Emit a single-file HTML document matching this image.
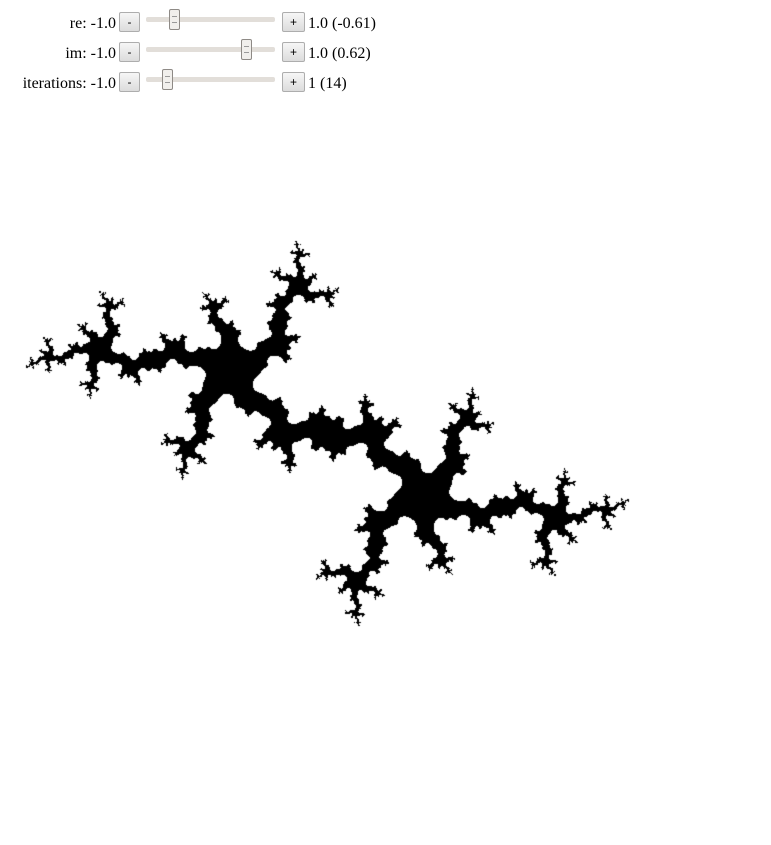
<!DOCTYPE html>
<html><head><meta charset="utf-8">
<style>
body{margin:0;width:771px;height:845px;background:#fff;position:relative;overflow:hidden;font-family:"Liberation Serif",serif;font-size:16px;color:#000}
.row{position:absolute;left:0;height:22px;width:400px}
.lbl{position:absolute;right:284px;top:3px;white-space:nowrap}
.btn{position:absolute;top:0;width:19px;height:18px;border:1px solid #adadad;border-radius:2px;background:linear-gradient(#f6f6f6,#dcdcdc);font-family:"Liberation Sans",sans-serif;font-size:12px;text-align:center;line-height:18px}
.track{position:absolute;left:146px;top:5px;width:129px;height:5px;background:#e2ded9;border-radius:2px}
.thumb{position:absolute;top:-8px;width:9px;height:19px;border:1px solid #8e8a86;border-radius:2px;background:#f1efec}
.thumb::after{content:"";position:absolute;left:2px;top:6px;width:5px;height:5px;border-top:1px solid #999;border-bottom:1px solid #999}
.val{position:absolute;left:308px;top:3px;white-space:nowrap}
canvas{position:absolute;left:0;top:100px}
</style></head><body>
<div class="row" style="top:12px">
<span class="lbl">re: -1.0</span>
<div class="btn" style="left:119px">-</div>
<div class="track"><div class="thumb" style="left:23px"></div></div>
<div class="btn" style="left:282px;width:21px">+</div>
<span class="val">1.0 (-0.61)</span>
</div>
<div class="row" style="top:42px">
<span class="lbl">im: -1.0</span>
<div class="btn" style="left:119px">-</div>
<div class="track"><div class="thumb" style="left:95px"></div></div>
<div class="btn" style="left:282px;width:21px">+</div>
<span class="val">1.0 (0.62)</span>
</div>
<div class="row" style="top:72px">
<span class="lbl">iterations: -1.0</span>
<div class="btn" style="left:119px">-</div>
<div class="track"><div class="thumb" style="left:16px"></div></div>
<div class="btn" style="left:282px;width:21px">+</div>
<span class="val">1 (14)</span>
</div>
<canvas id="c" width="771" height="745"></canvas>
<script>
const cRe = [-0.61];
const cIm = [0.62];
const iterations = [14];
const cv = document.getElementById('c');
const ctx = cv.getContext('2d');
const W = cv.width, H = cv.height;
const ox = 327, oy = 333, scale = 204;
const img = ctx.createImageData(W, H);
const cr = cRe[0], ci = cIm[0], n = iterations[0];
for (let py = 0; py < H; py++) {
  for (let px = 0; px < W; px++) {
    let x = (px - ox) / scale, y = -(py - oy) / scale;
    let inside = true;
    for (let k = 0; k < n; k++) {
      const xx = x * x - y * y + cr;
      y = 2 * x * y + ci; x = xx;
      if (x * x + y * y > 4) { inside = false; break; }
    }
    const i = (py * W + px) * 4;
    const v = inside ? 0 : 255;
    img.data[i] = v; img.data[i + 1] = v; img.data[i + 2] = v; img.data[i + 3] = 255;
  }
}
ctx.putImageData(img, 0, 0);
</script>
</body></html>
